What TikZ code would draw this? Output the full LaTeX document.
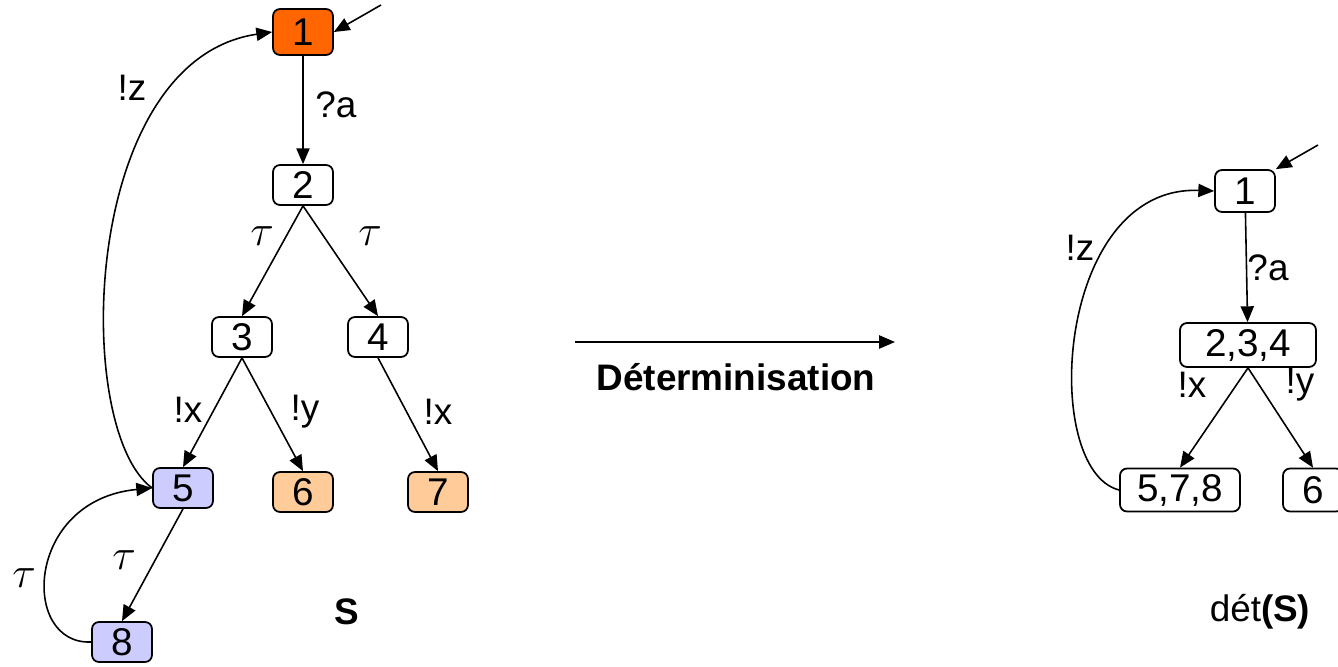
\documentclass[tikz,border=0pt]{standalone}
\usepackage{fontspec}
\setmainfont{Liberation Sans}
\usetikzlibrary{arrows.meta}
\definecolor{initorange}{HTML}{FF6600}
\definecolor{taublue}{HTML}{CCCCFF}
\definecolor{outpeach}{HTML}{FFCC99}
\begin{document}
\begin{tikzpicture}[x=0.02cm,y=-0.02cm,line cap=butt,line join=miter,>={Triangle[length=9pt,width=7.5pt]},
	state/.style={draw,line width=1pt,rounded corners=4pt,minimum width=1.2cm,minimum height=0.8cm,inner sep=1pt,font=\fontsize{22}{24}\selectfont},
	lbl/.style={inner sep=0pt,font=\fontsize{21}{24}\selectfont},
	taulbl/.style={inner sep=0pt,font=\fontsize{28}{30}\selectfont},
	trans/.style={->,line width=0.9pt}]
	\useasboundingbox (0,0) rectangle (1338,666);
	\clip (0,0) rectangle (1338,666);
	% systeme S
	\node[state,fill=initorange,minimum height=0.92cm] (s1) at (303,32) {1};
	\node[state] (s2) at (303,185) {2};
	\node[state] (s3) at (242,337) {3};
	\node[state] (s4) at (378,337) {4};
	\node[state,fill=taublue] (s5) at (183,488) {5};
	\node[state,fill=outpeach] (s6) at (303,492) {6};
	\node[state,fill=outpeach] (s7) at (438,492) {7};
	\node[state,fill=taublue] (s8) at (122,642) {8};
	\coordinate (s1in) at (381,5);
	\draw[trans] (s1in) -- (s1.east);
	\draw[trans] (s1) -- (s2);
	\draw[trans] (s2.south) -- (s3.north);
	\draw[trans] (s2.south) -- (s4.north);
	\draw[trans] (s3.south) -- (s5.north);
	\draw[trans] (s3.south) -- (s6.north);
	\draw[trans] (s4.south) -- (s7.north);
	\draw[trans] (s5.south) -- (s8.north);
	\draw[trans] (s5.west) .. controls (72,430) and (80,60) .. (s1.west);
	\draw[trans] (s8.west) .. controls (20,645) and (25,500) .. (s5.west);
	\node[lbl] (la) at (336,105) {?a};
	\node[taulbl] (lt1) at (262,236) {$\tau$};
	\node[taulbl] (lt2) at (370,236) {$\tau$};
	\node[lbl] (lx1) at (188,410) {!x};
	\node[lbl] (ly1) at (305,412) {!y};
	\node[lbl] (lx2) at (438,412) {!x};
	\node[lbl] (lz1) at (132,88) {!z};
	\node[taulbl] (lt3) at (24,578) {$\tau$};
	\node[taulbl] (lt4) at (124,560) {$\tau$};
	\node[lbl,font=\fontsize{21}{24}\selectfont\bfseries] (nomS) at (347,612) {S};
	% determinisation
	\coordinate (da) at (575,342);
	\coordinate (db) at (895,342);
	\draw[trans] (da) -- (db);
	\node[lbl,font=\fontsize{21}{24}\selectfont\bfseries] (det) at (736,377) {Déterminisation};
	% det(S)
	\node[state,minimum height=0.84cm] (d1) at (1245,191) {1};
	\node[state,minimum width=2.72cm,minimum height=0.88cm] (d234) at (1248,345) {2,3,4};
	\node[state,minimum width=2.4cm,minimum height=0.86cm] (d578) at (1180,490) {5,7,8};
	\node[state,minimum height=0.86cm] (d6) at (1313,490) {6};
	\coordinate (d1in) at (1318,145);
	\draw[trans] (d1in) -- (d1.north east);
	\draw[trans] (d1) -- (d234);
	\draw[trans] (d234.south) -- (d578.north);
	\draw[trans] (d234.south) -- (d6.north);
	\draw[trans] (d578.west) .. controls (1040,470) and (1055,185) .. (d1.west);
	\node[lbl] (da2) at (1268,268) {?a};
	\node[lbl] (dx) at (1192,385) {!x};
	\node[lbl] (dy) at (1300,385) {!y};
	\node[lbl] (dz) at (1080,248) {!z};
	\node[lbl] (nomD) at (1260,612) {dét\textbf{(S)}};
\end{tikzpicture}
\end{document}
